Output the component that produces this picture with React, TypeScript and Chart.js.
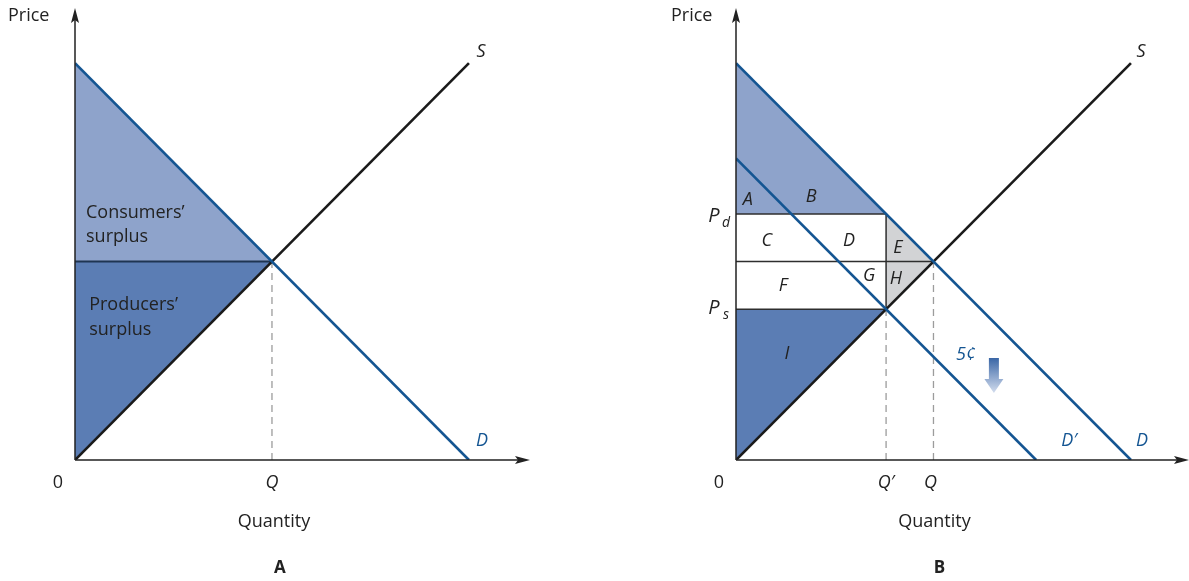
import React, { useEffect, useRef } from "react";
import { Chart, registerables } from "chart.js";
Chart.register(...registerables);

// ---------------- data ----------------
const demandD = [{ x: 0, y: 10 }, { x: 10, y: 0 }];
const supplyS = [{ x: 0, y: 0 }, { x: 10, y: 10 }];
const demandDPrime = [{ x: 0, y: 7.6 }, { x: 7.6, y: 0 }];
const equilibriumQ = 5;
const equilibriumP = 5;
const taxQ = 3.8;
const taxPd = 6.2;
const taxPs = 3.8;
const axisMaxA = [11.55, 11.39];
const axisMaxB = [11.47, 11.39];
const regionLabelsB = [
  { t: "A", x: 0.3, y: 6.55 },
  { t: "B", x: 1.9, y: 6.62 },
  { t: "C", x: 0.78, y: 5.52 },
  { t: "D", x: 2.86, y: 5.52 },
  { t: "E", x: 4.1, y: 5.34 },
  { t: "F", x: 1.19, y: 4.38 },
  { t: "G", x: 3.37, y: 4.63 },
  { t: "H", x: 4.05, y: 4.56 },
  { t: "I", x: 1.29, y: 2.67 },
];
const surplusLabelsA = [
  { t: "Consumers\u2019", x: 0.28, y: 6.22 },
  { t: "surplus", x: 0.28, y: 5.62 },
  { t: "Producers\u2019", x: 0.36, y: 3.9 },
  { t: "surplus", x: 0.36, y: 3.27 },
];
const taxLabel = { t: "5\u00a2", x: 5.82, y: 2.64 };
const taxArrow = { x: 6.53, yTop: 2.57, yBottom: 1.69 };

// ---------------- styles ----------------
const BLUE = "#145592";
const LIGHT = "#8ea3cb";
const DARK = "#5b7db4";
const GREY = "#d2d3d5";
const INK = "#222222";
const FONT = "'Open Sans', 'Noto Sans', sans-serif";

const poly = (pts: { x: number; y: number }[], color: string) => ({
  data: [...pts, pts[0]],
  backgroundColor: color,
  borderColor: "rgba(0,0,0,0)",
  borderWidth: 0,
  fill: "shape",
  pointRadius: 0,
  order: 10,
});
const seg = (pts: { x: number; y: number }[], color: string, width: number, dash: number[] = [], order = 1) => ({
  data: pts,
  borderColor: color,
  borderWidth: width,
  borderDash: dash,
  fill: false,
  pointRadius: 0,
  order,
});

function text(ctx: CanvasRenderingContext2D, t: string, x: number, y: number, font: string, color = INK, align: CanvasTextAlign = "center") {
  ctx.font = font;
  ctx.fillStyle = color;
  ctx.textAlign = align;
  ctx.textBaseline = "middle";
  ctx.fillText(t, x, y);
}

function drawAxes(chart: any) {
  const { ctx, chartArea, scales } = chart;
  const ox = scales.x.getPixelForValue(0);
  const oy = scales.y.getPixelForValue(0);
  ctx.save();
  ctx.strokeStyle = INK;
  ctx.fillStyle = INK;
  ctx.lineWidth = 1.5;
  ctx.beginPath();
  ctx.moveTo(ox, oy);
  ctx.lineTo(chartArea.right - 8, oy);
  ctx.moveTo(ox, oy);
  ctx.lineTo(ox, chartArea.top + 8);
  ctx.stroke();
  // arrowheads
  ctx.beginPath();
  ctx.moveTo(chartArea.right, oy);
  ctx.lineTo(chartArea.right - 15, oy - 4);
  ctx.lineTo(chartArea.right - 12, oy);
  ctx.lineTo(chartArea.right - 15, oy + 4);
  ctx.closePath();
  ctx.fill();
  ctx.beginPath();
  ctx.moveTo(ox, chartArea.top);
  ctx.lineTo(ox - 4, chartArea.top + 15);
  ctx.lineTo(ox, chartArea.top + 12);
  ctx.lineTo(ox + 4, chartArea.top + 15);
  ctx.closePath();
  ctx.fill();
  ctx.restore();
  return { ox, oy };
}

const plainFont = `18px ${FONT}`;
const italicFont = `italic 18px ${FONT}`;
const boldFont = `bold 17px ${FONT}`;

const annotA = {
  id: "annotA",
  afterDatasetsDraw(chart: any) {
    const { ctx, scales } = chart;
    const { x, y } = scales;
    const { ox, oy } = drawAxes(chart);
    ctx.save();
    text(ctx, "Price", ox - 67, 16, plainFont, INK, "left");
    text(ctx, "0", ox - 17, oy + 23, plainFont);
    text(ctx, "Q", x.getPixelForValue(equilibriumQ), oy + 23, italicFont);
    text(ctx, "Quantity", x.getPixelForValue(equilibriumQ) + 2, oy + 62, plainFont);
    text(ctx, "A", x.getPixelForValue(equilibriumQ) + 8, oy + 108, boldFont);
    text(ctx, "S", x.getPixelForValue(supplyS[1].x) + 12, y.getPixelForValue(supplyS[1].y) - 11, italicFont);
    text(ctx, "D", x.getPixelForValue(demandD[1].x) + 13, oy - 19, italicFont, BLUE);
    surplusLabelsA.forEach((l) => text(ctx, l.t, x.getPixelForValue(l.x), y.getPixelForValue(l.y), plainFont, INK, "left"));
    ctx.restore();
  },
};

const annotB = {
  id: "annotB",
  afterDatasetsDraw(chart: any) {
    const { ctx, scales } = chart;
    const { x, y } = scales;
    const { ox, oy } = drawAxes(chart);
    ctx.save();
    text(ctx, "Price", ox - 65, 16, plainFont, INK, "left");
    text(ctx, "0", ox - 17, oy + 23, plainFont);
    text(ctx, "Q\u2032", x.getPixelForValue(taxQ), oy + 23, italicFont);
    text(ctx, "Q", x.getPixelForValue(equilibriumQ) - 3, oy + 23, italicFont);
    text(ctx, "Quantity", x.getPixelForValue(equilibriumQ) + 1, oy + 62, plainFont);
    text(ctx, "B", x.getPixelForValue(equilibriumQ) + 6, oy + 108, boldFont);
    text(ctx, "S", x.getPixelForValue(supplyS[1].x) + 10, y.getPixelForValue(supplyS[1].y) - 11, italicFont);
    text(ctx, "D", x.getPixelForValue(demandD[1].x) + 11, oy - 19, italicFont, BLUE);
    text(ctx, "D\u2032", x.getPixelForValue(demandDPrime[1].x) + 33, oy - 19, italicFont, BLUE);
    // P_d, P_s
    text(ctx, "P", ox - 22, y.getPixelForValue(taxPd) + 2, `italic 20px ${FONT}`);
    text(ctx, "d", ox - 10, y.getPixelForValue(taxPd) + 9, `italic 14px ${FONT}`);
    text(ctx, "P", ox - 22, y.getPixelForValue(taxPs) - 1, `italic 20px ${FONT}`);
    text(ctx, "s", ox - 10, y.getPixelForValue(taxPs) + 6, `italic 14px ${FONT}`);
    regionLabelsB.forEach((l) => text(ctx, l.t, x.getPixelForValue(l.x), y.getPixelForValue(l.y), italicFont));
    text(ctx, taxLabel.t, x.getPixelForValue(taxLabel.x), y.getPixelForValue(taxLabel.y), italicFont, BLUE);
    // downward gradient arrow
    const ax = x.getPixelForValue(taxArrow.x);
    const at = y.getPixelForValue(taxArrow.yTop);
    const ab = y.getPixelForValue(taxArrow.yBottom);
    const g = ctx.createLinearGradient(0, at, 0, ab);
    g.addColorStop(0, "#3a66a6");
    g.addColorStop(1, "#d3ddee");
    ctx.fillStyle = g;
    ctx.beginPath();
    ctx.moveTo(ax - 5, at);
    ctx.lineTo(ax + 5, at);
    ctx.lineTo(ax + 5, at + 21);
    ctx.lineTo(ax + 9.5, at + 21);
    ctx.lineTo(ax, ab);
    ctx.lineTo(ax - 9.5, at + 21);
    ctx.lineTo(ax - 5, at + 21);
    ctx.closePath();
    ctx.fill();
    ctx.restore();
  },
};

function baseOptions(max: number[], padding: any) {
  return {
    animation: false,
    responsive: false,
    maintainAspectRatio: false,
    layout: { padding },
    plugins: { legend: { display: false }, tooltip: { enabled: false } },
    elements: { point: { radius: 0 }, line: { tension: 0 } },
    scales: {
      x: { type: "linear", min: 0, max: max[0], display: false },
      y: { type: "linear", min: 0, max: max[1], display: false },
    },
  };
}

function datasetsA() {
  const eq = { x: equilibriumQ, y: equilibriumP };
  return [
    poly([{ x: 0, y: demandD[0].y }, eq, { x: 0, y: equilibriumP }], LIGHT),
    poly([{ x: 0, y: equilibriumP }, eq, { x: 0, y: 0 }], DARK),
    seg([{ x: equilibriumQ, y: 0 }, eq], "#9c9c9c", 1.3, [7, 5], 3),
    seg([{ x: 0, y: equilibriumP }, eq], "#1f3552", 2, [], 2),
    seg(demandD, BLUE, 2.6),
    seg(supplyS, "#1a1a1a", 2.6),
  ];
}

function datasetsB() {
  const eq = { x: equilibriumQ, y: equilibriumP };
  const dTop = { x: taxQ, y: taxPd };
  const sBot = { x: taxQ, y: taxPs };
  return [
    poly([{ x: 0, y: demandD[0].y }, dTop, { x: 0, y: taxPd }], LIGHT),
    poly([{ x: 0, y: taxPs }, sBot, { x: 0, y: 0 }], DARK),
    poly([dTop, eq, sBot], GREY),
    seg([{ x: equilibriumQ, y: 0 }, eq], "#9c9c9c", 1.3, [7, 5], 3),
    seg([{ x: taxQ, y: 0 }, sBot], "#9c9c9c", 1.3, [7, 5], 3),
    seg([{ x: 0, y: taxPd }, dTop], "#2e2e2e", 1.5, [], 2),
    seg([{ x: 0, y: equilibriumP }, eq], "#2e2e2e", 1.5, [], 2),
    seg([{ x: 0, y: taxPs }, sBot], "#2e2e2e", 1.5, [], 2),
    seg([sBot, dTop], "#2e2e2e", 1.5, [], 2),
    seg(demandD, BLUE, 2.6),
    seg(demandDPrime, BLUE, 2.6),
    seg(supplyS, "#1a1a1a", 2.6),
  ];
}

function Panel(props: { left: number; width: number; datasets: any[]; max: number[]; padding: any; plugin: any }) {
  const ref = useRef<HTMLCanvasElement | null>(null);
  useEffect(() => {
    if (!ref.current) return;
    const chart = new Chart(ref.current, {
      type: "line",
      data: { datasets: props.datasets },
      options: baseOptions(props.max, props.padding) as any,
      plugins: [props.plugin],
    } as any);
    return () => chart.destroy();
  }, []);
  return (
    <canvas
      ref={ref}
      width={props.width}
      height={581}
      style={{ position: "absolute", left: props.left, top: 0, width: props.width, height: 581 }}
    />
  );
}

export default function App() {
  useEffect(() => {
    document.body.style.margin = "0";
    document.body.style.background = "#ffffff";
  }, []);
  return (
    <div style={{ position: "relative", width: 1189, height: 581, background: "#fff", overflow: "hidden" }}>
      <Panel left={0} width={594} datasets={datasetsA()} max={axisMaxA} padding={{ left: 75, right: 64, top: 8, bottom: 121 }} plugin={annotA} />
      <Panel left={594} width={595} datasets={datasetsB()} max={axisMaxB} padding={{ left: 142, right: 0, top: 8, bottom: 121 }} plugin={annotB} />
    </div>
  );
}
